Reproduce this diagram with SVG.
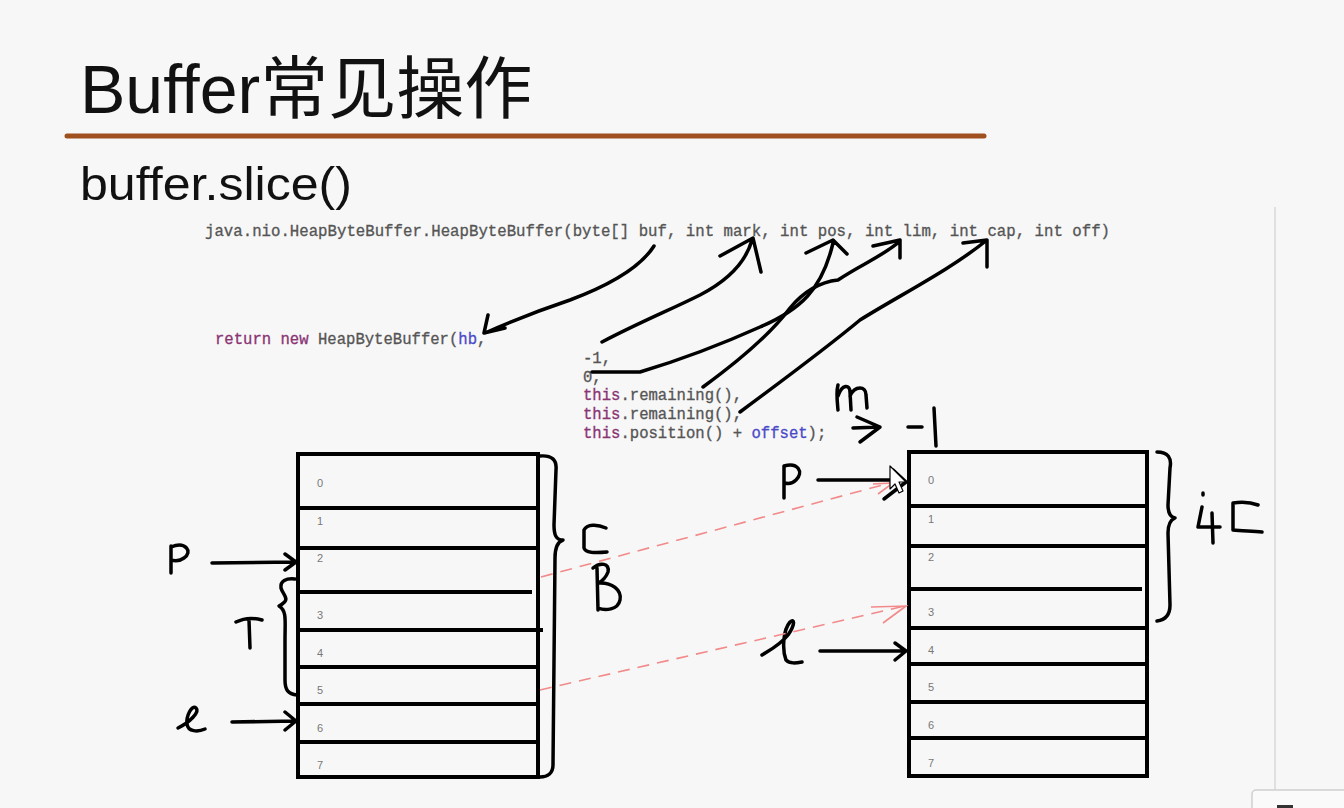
<svg xmlns="http://www.w3.org/2000/svg" width="1344" height="808" viewBox="0 0 1344 808">
<defs>
<style>
.code{font-family:"Liberation Mono","Courier New",monospace;font-size:15.6px;font-weight:normal;fill:#555;stroke:#555;stroke-width:0.3;}
.kw{fill:#8a3474;stroke:#8a3474;}
.fld{fill:#4a4ac8;stroke:#4a4ac8;}
.num{font-family:"Liberation Sans",Arial,sans-serif;font-size:11px;fill:#777;}
.box{fill:none;stroke:#000;stroke-width:4;}
.row{stroke:#000;stroke-width:4;}
.ink{fill:none;stroke:#000;stroke-width:3.5;stroke-linecap:round;stroke-linejoin:round;}
.red{fill:none;stroke:#f28a8a;stroke-width:1.6;stroke-dasharray:12 8;}
.redh{fill:none;stroke:#f28a8a;stroke-width:1.6;}
</style>
</defs>
<rect x="0" y="0" width="1344" height="808" fill="#f7f7f7"/>
<line x1="1275" y1="207" x2="1275" y2="808" stroke="#e0e0e0" stroke-width="2"/>
<g id="corner-box">
<rect x="1252" y="790" width="100" height="30" rx="4" fill="#fafafa" stroke="#cfcfcf" stroke-width="1.5"/>
<rect x="1277" y="805" width="16" height="3" fill="#333"/>
</g>

<g id="title">
<text x="80" y="113" font-family="'Liberation Sans','Noto Sans CJK SC',sans-serif" font-size="68" fill="#111">Buffer常见操作</text>
<line x1="67" y1="136" x2="984" y2="136" stroke="#a0501e" stroke-width="5" stroke-linecap="round"/>
<text x="80" y="200" font-family="'Liberation Sans','Noto Sans',sans-serif" font-size="46" fill="#111" textLength="272" lengthAdjust="spacingAndGlyphs">buffer.slice()</text>
</g>

<g id="code">
<text class="code" x="205" y="236" textLength="905" lengthAdjust="spacingAndGlyphs">java.nio.HeapByteBuffer.HeapByteBuffer(byte[] buf, int mark, int pos, int lim, int cap, int off)</text>
<text class="code" x="215" y="344"><tspan class="kw">return</tspan> <tspan class="kw">new</tspan> HeapByteBuffer(<tspan class="fld">hb</tspan>,</text>
<text class="code" x="583" y="363">-1,</text>
<text class="code" x="583" y="382">0,</text>
<text class="code" x="583" y="400"><tspan class="kw">this</tspan>.remaining(),</text>
<text class="code" x="583" y="419"><tspan class="kw">this</tspan>.remaining(),</text>
<text class="code" x="583" y="438"><tspan class="kw">this</tspan>.position() + <tspan class="fld">offset</tspan>);</text>
</g>

<g id="buffer-left">
<rect class="box" x="298" y="454" width="240" height="323"/>
<line class="row" x1="298" y1="508" x2="538" y2="508"/>
<line class="row" x1="298" y1="548" x2="538" y2="548"/>
<line class="row" x1="298" y1="592" x2="532" y2="592"/>
<line class="row" x1="298" y1="630" x2="543" y2="630"/>
<line class="row" x1="298" y1="667" x2="538" y2="667"/>
<line class="row" x1="298" y1="704" x2="538" y2="704"/>
<line class="row" x1="298" y1="742" x2="538" y2="742"/>
<text class="num" x="317" y="487">0</text>
<text class="num" x="317" y="525">1</text>
<text class="num" x="317" y="562">2</text>
<text class="num" x="317" y="619">3</text>
<text class="num" x="317" y="657">4</text>
<text class="num" x="317" y="694">5</text>
<text class="num" x="317" y="732">6</text>
<text class="num" x="317" y="769">7</text>
</g>

<g id="buffer-right">
<rect class="box" x="909" y="452" width="238" height="324"/>
<line class="row" x1="909" y1="506" x2="1147" y2="506"/>
<line class="row" x1="909" y1="546" x2="1147" y2="546"/>
<line class="row" x1="909" y1="589" x2="1142" y2="589"/>
<line class="row" x1="909" y1="628" x2="1147" y2="628"/>
<line class="row" x1="909" y1="664" x2="1147" y2="664"/>
<line class="row" x1="909" y1="702" x2="1147" y2="702"/>
<line class="row" x1="909" y1="738" x2="1147" y2="738"/>
<text class="num" x="928" y="484">0</text>
<text class="num" x="928" y="523">1</text>
<text class="num" x="928" y="561">2</text>
<text class="num" x="928" y="616">3</text>
<text class="num" x="928" y="654">4</text>
<text class="num" x="928" y="691">5</text>
<text class="num" x="928" y="729">6</text>
<text class="num" x="928" y="767">7</text>
</g>

<g id="annotations-left">
<path class="ink" d="M171,546 L171,573 M171,547 C 186,541 193,552 184,558 C 180,561 175,561 171,560"/>
<path class="ink" d="M236,622 Q 248,616 262,620 M249,620 L250,648"/>
<path class="ink" d="M178,728 C 190,722 200,712 196,708 C 192,704 186,716 187,724 C 188,732 198,732 205,729"/>
<path class="ink" d="M295,579 C 286,578 280,581 281,588 C 283,596 292,599 279,606 C 287,611 285,620 285,640 L285,680 C 285,690 288,694 297,695"/>
<path class="ink" d="M540,456 C 552,455 557,460 556,470 L554,525 C 554,535 556,540 563,540 C 557,542 555,548 555,558 L553,765 C 553,773 548,777 540,777"/>
<path class="ink" d="M606,528 C 597,524 587,524 584,530 L584,548 C 585,553 595,553 607,552"/>
<path class="ink" d="M597,568 L598,610 M593,568 C 600,562 610,563 608,572 C 605,580 600,582 598,583 C 612,582 622,590 620,600 C 618,610 605,611 598,608"/>
</g>

<g id="annotations-right">
<path class="ink" d="M838,410 C 837,400 836,392 838,385 M838,396 C 842,384 850,384 850,392 L851,410 M850,396 C 855,385 866,386 866,395 L867,408"/>
<path class="ink" d="M853,428 L880,427 M857,417 L880,427 L860,442"/>
<path class="ink" d="M908,427 L922,427 M934,408 L936,446"/>
<path class="ink" d="M784,498 L784,466 M784,466 C 798,462 804,472 796,480 C 792,484 788,484 785,483"/>
<path class="ink" d="M1157,452 C 1168,452 1172,458 1170,468 L1168,505 C 1168,513 1170,517 1175,518 C 1170,520 1168,525 1168,533 L1170,605 C 1170,615 1165,620 1157,621"/>
<path class="ink" d="M1203,493 L1203,495 M1202,507 L1198,527 L1220,527 M1212,513 L1213,543"/>
<path class="ink" d="M1258,505 C 1250,502 1240,502 1233,503 L1233,530 C 1242,531 1252,531 1262,532"/>
<path class="ink" d="M762,655 C 770,650 780,645 788,635 C 795,625 795,618 790,622 C 783,630 782,650 786,660 C 790,664 796,663 802,662"/>
</g>

<g id="connectors">
<path class="ink" d="M654,246 C 640,268 610,285 570,300 C 540,310 510,322 485,333 M488,315 L484,333 L505,328"/>
<path class="ink" d="M602,342 C 640,322 670,310 700,295 C 725,282 745,265 752,240 M720,256 L753,238 L761,272"/>
<path class="ink" d="M592,372 L640,372 C 680,360 720,345 760,327 C 800,310 822,290 833,243 M806,253 L833,240 L847,254"/>
<path class="ink" d="M703,387 C 740,360 770,335 790,308 C 805,290 820,282 838,280 C 860,265 885,255 900,241 M873,246 L900,240 L900,258"/>
<path class="ink" d="M740,412 C 790,375 830,345 860,320 C 900,295 950,270 987,240 M963,243 L987,240 L987,267"/>
<path class="ink" d="M212,563 L296,562 M285,554 L296,562 L285,570"/>
<path class="ink" d="M232,722 L296,721 M285,712 L296,721 L285,730"/>
<path class="ink" d="M818,480 L903,480 M893,470 L906,482 L884,499"/>
<path class="ink" d="M820,651 L905,651 M895,643 L906,651 L895,660"/>
<path class="red" d="M541,577 L890,483"/>
<path class="redh" d="M873,484 L893,483 L878,494"/>
<path class="red" d="M540,690 L905,606"/>
<path class="redh" d="M871,607 L906,606 L883,623"/>
</g>

<g id="cursor">
<path d="M890,466 L890,489 L895,484 L899,493 L903,491 L899,482 L906,482 Z" fill="#fff" stroke="#000" stroke-width="1.2" stroke-linejoin="round"/>
</g>
</svg>
